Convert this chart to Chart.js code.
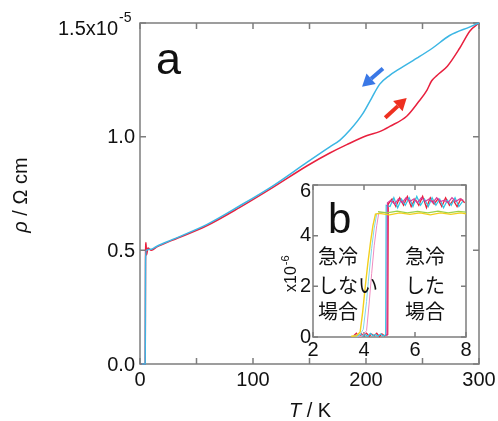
<!DOCTYPE html>
<html lang="ja">
<head>
<meta charset="UTF-8">
<title>rho vs T</title>
<script src="https://cdn.jsdelivr.net/npm/chart.js"></script>
<style>
  body { margin: 0; background: #fff; }
  #wrap { position: relative; width: 498px; height: 421px; }
  #main { position: absolute; left: 0; top: 0; }
  #inset { position: absolute; left: 270px; top: 172px; }
</style>
</head>
<body>
<div id="wrap">
  <canvas id="main" width="498" height="421"></canvas>
  <canvas id="inset" width="206" height="188"></canvas>
</div>
<script>
// main panel (a): rho in units of 1e-5 ohm cm
const warmT   = [1.5, 4.6, 4.9, 5.3, 5.8, 7, 10, 15, 29, 59, 88, 118, 148, 168, 183, 201, 212, 221, 236, 246, 254, 258, 263, 272, 283, 292, 300];
const warmRho = [0, 0, 0.47, 0.535, 0.48, 0.51, 0.5, 0.515, 0.545, 0.608, 0.688, 0.778, 0.872, 0.928, 0.965, 1.005, 1.022, 1.045, 1.09, 1.15, 1.205, 1.245, 1.27, 1.31, 1.39, 1.465, 1.5];
const coolT   = [1.5, 4.6, 4.9, 5.5, 10, 15, 29, 59, 88, 118, 148, 168, 177, 186, 197, 205, 212, 221, 227, 245, 259, 274, 292, 300];
const coolRho = [0, 0, 0.45, 0.5, 0.505, 0.518, 0.548, 0.613, 0.695, 0.785, 0.888, 0.955, 0.985, 1.03, 1.10, 1.17, 1.23, 1.27, 1.29, 1.345, 1.39, 1.445, 1.483, 1.5];
const mainXTicks = [0, 100, 200, 300];
const mainXMinor = [50, 150, 250];
const mainYTicks = [0, 0.5, 1.0, 1.5];
const mainYLabels = ['0.0', '0.5', '1.0', '1.5x10'];
// arrows, in data units (T, rho)
const blueArrowT = [215, 196.5], blueArrowRho = [1.30, 1.22];
const redArrowT = [217, 236], redArrowRho = [1.083, 1.17];

// inset (b): rho in units of 1e-6
const qRedT = [3.6, 3.7, 3.8, 3.9, 4.0, 4.1, 4.2, 4.3, 4.4, 4.5, 4.6, 4.7, 4.8, 4.93, 4.95, 5.1, 5.25, 5.4, 5.55, 5.7, 5.85, 6.0, 6.15, 6.3, 6.45, 6.6, 6.75, 6.9, 7.05, 7.2, 7.35, 7.5, 7.65, 7.8, 7.95];
const qRed  = [0.05, 0.15, 0.02, 0.12, 0.05, 0.15, 0.03, 0.12, 0.05, 0.15, 0.02, 0.12, 0.05, 0.1, 5.25, 5.45, 5.15, 5.5, 5.2, 5.55, 5.15, 5.45, 5.2, 5.55, 5.1, 5.5, 5.25, 5.45, 5.15, 5.5, 5.2, 5.4, 5.15, 5.45, 5.3];
const qCyanT = [3.65, 3.75, 3.85, 3.95, 4.05, 4.15, 4.25, 4.35, 4.45, 4.55, 4.65, 4.75, 4.85, 4.87, 5.02, 5.17, 5.32, 5.47, 5.62, 5.77, 5.92, 6.07, 6.22, 6.37, 6.52, 6.67, 6.82, 6.97, 7.12, 7.27, 7.42, 7.57, 7.72, 7.87];
const qCyan  = [0.08, 0.02, 0.12, 0.04, 0.1, 0.02, 0.14, 0.05, 0.1, 0.03, 0.12, 0.05, 0.08, 5.2, 5.15, 5.5, 5.1, 5.45, 5.2, 5.5, 5.15, 5.55, 5.2, 5.45, 5.15, 5.5, 5.2, 5.45, 5.1, 5.4, 5.2, 5.5, 5.15, 5.35];
const qMagT = [4.9, 4.92, 5.05, 5.2, 5.35, 5.5, 5.65, 5.8, 5.95, 6.1, 6.25, 6.4, 6.55, 6.7, 6.85, 7.0, 7.15, 7.3, 7.45, 7.6, 7.75, 7.9];
const qMag  = [0.05, 5.3, 5.4, 5.25, 5.45, 5.3, 5.5, 5.35, 5.45, 5.3, 5.5, 5.35, 5.45, 5.3, 5.5, 5.35, 5.4, 5.3, 5.5, 5.35, 5.45, 5.4];
const nqYelT = [3.5, 3.7, 3.85, 3.95, 4.05, 4.15, 4.25, 4.35, 4.45, 4.6, 5.0, 5.4, 5.8, 6.2, 6.6, 7.0, 7.4, 7.8, 8.0];
const nqYel  = [0.03, 0.05, 0.2, 1.0, 2.0, 2.9, 3.7, 4.4, 4.85, 4.88, 4.82, 4.9, 4.84, 4.9, 4.82, 4.9, 4.84, 4.9, 4.86];
const nqCyanT = [3.6, 3.8, 3.97, 4.1, 4.17, 4.3, 4.4, 4.5, 4.7];
const nqCyan  = [0.05, 0.03, 0.3, 1.4, 2.2, 3.5, 4.3, 4.87, 4.9];
const nqMagT = [3.7, 3.9, 4.1, 4.2, 4.3, 4.4, 4.5, 4.58, 4.8];
const nqMag  = [0.04, 0.02, 0.25, 1.3, 2.5, 3.6, 4.4, 4.9, 4.92];
const nqGreenT = [4.55, 4.9, 5.3, 5.7, 6.1, 6.5, 6.9, 7.3, 7.7, 8.0];
const nqGreen  = [4.95, 4.9, 4.97, 4.9, 4.96, 4.9, 4.97, 4.9, 4.96, 4.93];
const insXTicks = [2, 4, 6, 8];
const insYTicks = [0, 2, 4, 6];

const FONT = '"Liberation Sans", Arial, sans-serif';
const JP = '"Noto Sans CJK JP", sans-serif';

function pts(xs, ys) {
  return xs.map((v, i) => ({ x: v, y: ys[i] }));
}

function line(label, xs, ys, color, width, smooth) {
  const ds = {
    label: label,
    data: pts(xs, ys),
    borderColor: color,
    backgroundColor: color,
    borderWidth: width,
    pointRadius: 0,
    showLine: true,
    tension: 0,
    clip: false
  };
  if (smooth) ds.cubicInterpolationMode = 'monotone';
  return ds;
}

// box with inward ticks on all four sides
function boxPlugin(id, xT, yT, tick) {
  return {
    id: id,
    beforeDatasetsDraw(chart) {
      const { ctx, chartArea: a, scales: { x, y } } = chart;
      ctx.save();
      ctx.strokeStyle = '#7d7d7d';
      ctx.lineWidth = 1.5;
      ctx.strokeRect(a.left, a.top, a.right - a.left, a.bottom - a.top);
      ctx.beginPath();
      xT.forEach(v => {
        const px = x.getPixelForValue(v);
        ctx.moveTo(px, a.bottom); ctx.lineTo(px, a.bottom - tick);
        ctx.moveTo(px, a.top); ctx.lineTo(px, a.top + tick);
      });
      yT.forEach(v => {
        const py = y.getPixelForValue(v);
        ctx.moveTo(a.left, py); ctx.lineTo(a.left + tick, py);
        ctx.moveTo(a.right, py); ctx.lineTo(a.right - tick, py);
      });
      ctx.stroke();
      ctx.restore();
    }
  };
}

const mainText = {
  id: 'mainText',
  afterDatasetsDraw(chart) {
    const { ctx, chartArea: a, scales: { x, y } } = chart;
    ctx.save();
    ctx.fillStyle = '#111';
    ctx.font = '20px ' + FONT;
    ctx.textBaseline = 'middle';
    ctx.textAlign = 'center';
    mainXTicks.forEach(v => ctx.fillText(String(v), x.getPixelForValue(v), a.bottom + 16));
    ctx.textAlign = 'right';
    mainYTicks.forEach((v, i) => {
      const py = y.getPixelForValue(v);
      if (i === mainYTicks.length - 1) {
        ctx.fillText(mainYLabels[i], a.left - 22, py + 6);
        ctx.font = '14px ' + FONT;
        ctx.textAlign = 'left';
        ctx.fillText('-5', a.left - 21, py - 5);
        ctx.font = '20px ' + FONT;
        ctx.textAlign = 'right';
      } else {
        ctx.fillText(mainYLabels[i], a.left - 5, py + 1);
      }
    });
    // x title
    ctx.textAlign = 'left';
    ctx.font = 'italic 20px ' + FONT;
    const tw = ctx.measureText('T').width;
    ctx.font = '20px ' + FONT;
    const rw = ctx.measureText(' / K').width;
    const x0 = 310 - (tw + rw) / 2;
    ctx.font = 'italic 20px ' + FONT;
    ctx.fillText('T', x0, 411);
    ctx.font = '20px ' + FONT;
    ctx.fillText(' / K', x0 + tw, 411);
    // y title
    ctx.save();
    ctx.translate(21, 195);
    ctx.rotate(-Math.PI / 2);
    ctx.font = 'italic 20px ' + FONT;
    const pw = ctx.measureText('\u03c1').width;
    ctx.font = '20px ' + FONT;
    const ow = ctx.measureText(' / \u03a9 cm').width;
    const s = -(pw + ow) / 2;
    ctx.font = 'italic 20px ' + FONT;
    ctx.fillText('\u03c1', s, 0);
    ctx.font = '20px ' + FONT;
    ctx.fillText(' / \u03a9 cm', s + pw, 0);
    ctx.restore();
    // panel letter
    ctx.font = '45px ' + FONT;
    ctx.textBaseline = 'alphabetic';
    ctx.fillText('a', 156, 74);
    // arrows
    drawArrow(ctx, x, y, blueArrowT, blueArrowRho, '#3a78e6');
    drawArrow(ctx, x, y, redArrowT, redArrowRho, '#ee3020');
    ctx.restore();
  }
};

function drawArrow(ctx, x, y, ts, rs, color) {
  const x1 = x.getPixelForValue(ts[0]), y1 = y.getPixelForValue(rs[0]);
  const x2 = x.getPixelForValue(ts[1]), y2 = y.getPixelForValue(rs[1]);
  const ang = Math.atan2(y2 - y1, x2 - x1);
  const head = 12, half = 7;
  const bx = x2 - head * Math.cos(ang), by = y2 - head * Math.sin(ang);
  ctx.save();
  ctx.strokeStyle = color;
  ctx.fillStyle = color;
  ctx.lineWidth = 4;
  ctx.beginPath();
  ctx.moveTo(x1, y1);
  ctx.lineTo(bx, by);
  ctx.stroke();
  ctx.beginPath();
  ctx.moveTo(x2, y2);
  ctx.lineTo(bx + half * Math.sin(ang), by - half * Math.cos(ang));
  ctx.lineTo(bx - half * Math.sin(ang), by + half * Math.cos(ang));
  ctx.closePath();
  ctx.fill();
  ctx.restore();
}

const insetText = {
  id: 'insetText',
  afterDatasetsDraw(chart) {
    const { ctx, chartArea: a, scales: { x, y } } = chart;
    ctx.save();
    ctx.fillStyle = '#111';
    ctx.font = '20px ' + FONT;
    ctx.textBaseline = 'middle';
    ctx.textAlign = 'center';
    insXTicks.forEach(v => ctx.fillText(String(v), x.getPixelForValue(v), a.bottom + 13));
    ctx.textAlign = 'right';
    insYTicks.forEach(v => {
      let py = y.getPixelForValue(v);
      if (v === 6) py += 6;
      ctx.fillText(String(v), a.left - 2, py);
    });
    // y unit, rotated
    ctx.save();
    ctx.translate(26, 120);
    ctx.rotate(-Math.PI / 2);
    ctx.textAlign = 'left';
    ctx.textBaseline = 'alphabetic';
    ctx.font = '16px ' + FONT;
    ctx.fillText('x10', 0, 0);
    const w = ctx.measureText('x10').width;
    ctx.font = '11px ' + FONT;
    ctx.fillText('-6', w + 1, -7);
    ctx.restore();
    // panel letter
    ctx.textAlign = 'left';
    ctx.textBaseline = 'alphabetic';
    ctx.font = '42px ' + FONT;
    ctx.fillText('b', 58, 61);
    // Japanese notes
    ctx.font = '20px ' + JP;
    ctx.textBaseline = 'middle';
    const left = ['急冷', 'しない', '場合'];
    const right = ['急冷', 'した', '場合'];
    const rows = [84, 113, 139];
    left.forEach((t, i) => ctx.fillText(t, 48, rows[i]));
    right.forEach((t, i) => ctx.fillText(t, 135, rows[i]));
    ctx.restore();
  }
};

new Chart(document.getElementById('main'), {
  type: 'scatter',
  data: {
    datasets: [
      line('cooling', coolT, coolRho, '#3cb6e4', 1.5, true),
      line('warming', warmT, warmRho, '#e8203e', 1.5, true)
    ]
  },
  options: {
    responsive: false,
    animation: false,
    layout: { padding: { left: 140, right: 19, top: 23, bottom: 57 } },
    plugins: { legend: { display: false }, tooltip: { enabled: false } },
    scales: {
      x: { type: 'linear', min: 0, max: 300, display: false },
      y: { type: 'linear', min: 0, max: 1.5, display: false }
    }
  },
  plugins: [boxPlugin('mainBox', mainXTicks.concat(mainXMinor), mainYTicks, 6), mainText]
});

new Chart(document.getElementById('inset'), {
  type: 'scatter',
  data: {
    datasets: [
      line('nq yellow', nqYelT, nqYel, '#f2cf1c', 1.4, false),
      line('nq green', nqGreenT, nqGreen, '#9ad24a', 1.4, false),
      line('nq cyan', nqCyanT, nqCyan, '#7fd6ec', 1.0, false),
      line('nq magenta', nqMagT, nqMag, '#f08cc0', 1.0, false),
      line('q magenta', qMagT, qMag, '#d83c9a', 1.2, false),
      line('q cyan', qCyanT, qCyan, '#30c4e4', 1.2, false),
      line('q red', qRedT, qRed, '#e8203a', 1.3, false)
    ]
  },
  options: {
    responsive: false,
    animation: false,
    layout: { padding: { left: 43, right: 10, top: 13, bottom: 23 } },
    plugins: { legend: { display: false }, tooltip: { enabled: false } },
    scales: {
      x: { type: 'linear', min: 2, max: 8, display: false },
      y: { type: 'linear', min: 0, max: 6, display: false }
    }
  },
  plugins: [boxPlugin('insetBox', insXTicks, insYTicks, 5), insetText]
});
</script>
</body>
</html>
